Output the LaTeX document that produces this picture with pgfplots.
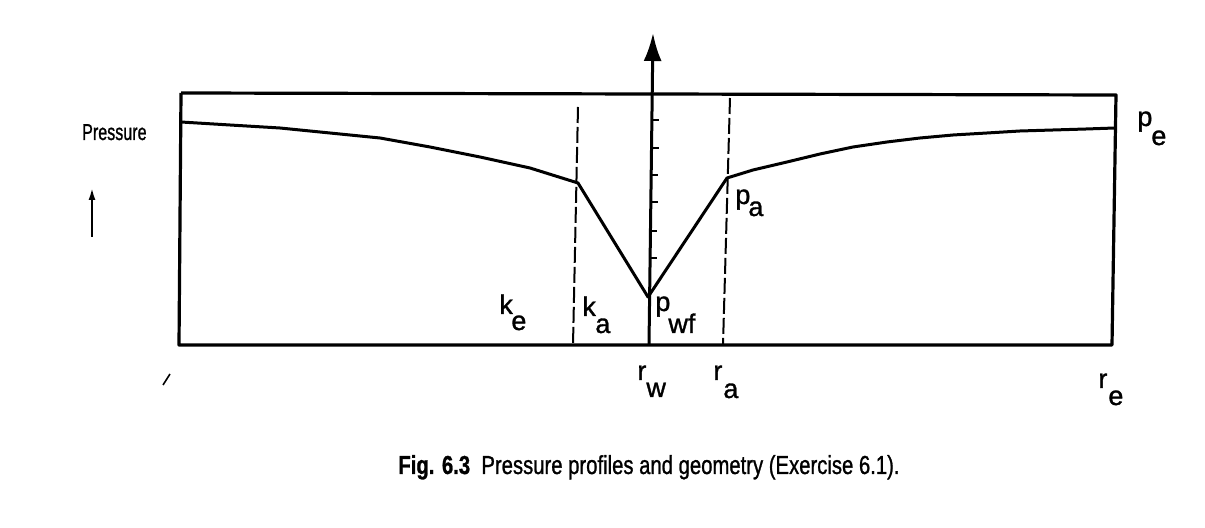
\documentclass[border=0pt]{standalone}
\usepackage{pgfplots}
\pgfplotsset{compat=1.18}
\usepackage{fontspec}
\setmainfont{Liberation Sans}
\newfontfamily\thickfont[FakeBold=1.2]{Liberation Sans}
\usetikzlibrary{arrows.meta}
\begin{document}
\begin{tikzpicture}
\begin{axis}[
  scale only axis, width=602.5pt, height=264pt,
  xmin=0, xmax=1205, ymin=0, ymax=528, y dir=reverse,
  hide axis, clip=false, unbounded coords=jump,
  every axis plot/.append style={black, line join=round},
]
% frame
\addplot[line width=1.6pt] coordinates {(181,93) (1116,95) (1112,345) (179,345) (181,93)};
% pressure profile
\addplot[line width=1.5pt] coordinates {
(181,122) (230,125) (280,128) (330,133) (380,138) (430,147) (480,157) (530,168) (578,183)
(648,297)
(727,178) (753,170) (787,162) (820,154) (853,147) (887,142) (920,138) (953,135) (987,133) (1020,131) (1053,130) (1086,129) (1115,128)};
% dashed boundaries
\addplot[line width=1pt, dash pattern=on 8pt off 2pt] coordinates {(578,107) (573,345)};
\addplot[line width=1pt, dash pattern=on 8pt off 2pt] coordinates {(730,98) (723,345)};
% well axis with arrow
\addplot[line width=1.5pt, -{Latex[length=14pt,width=9pt]}] coordinates {(649,345) (653,33)};
% ticks on well axis
\addplot[line width=1.2pt] coordinates {
(653,120) (659,120) (653,nan)
(653,148) (659,148) (653,nan)
(652,175) (658,175) (652,nan)
(652,202) (658,202) (652,nan)
(651,231) (657,231) (651,nan)
(651,258) (657,258)};
% small pressure arrow
\addplot[line width=1pt, -{Latex[length=6pt,width=3.5pt]}] coordinates {(92,237) (92,188)};
% stray mark
\addplot[line width=0.8pt] coordinates {(163,385) (170,374)};
% labels
\node[anchor=base east, inner sep=0pt, font=\thickfont\fontsize{11.5}{11.5}\selectfont] at (axis cs:147,140) {\scalebox{0.7}[1]{Pressure}};
\begin{scope}[every node/.style={anchor=base west, inner sep=0pt, font=\thickfont\fontsize{13.5}{13.5}\selectfont}]
\node at (axis cs:499,314) {k}; \node at (axis cs:511,330) {e};
\node at (axis cs:582,316) {k}; \node at (axis cs:595,333) {a};
\node at (axis cs:655,311) {p}; \node at (axis cs:668,333) {wf};
\node at (axis cs:735,204) {p}; \node at (axis cs:748,216) {a};
\node at (axis cs:1137,126) {p}; \node at (axis cs:1151,145) {e};
\node at (axis cs:637,380) {r}; \node at (axis cs:646,397) {w};
\node at (axis cs:713,380) {r}; \node at (axis cs:723,398) {a};
\node at (axis cs:1098,388) {r}; \node at (axis cs:1108,405) {e};
\end{scope}
\node[anchor=base west, inner sep=0pt, font=\thickfont\fontsize{13}{13}\selectfont] at (axis cs:398,474) {\scalebox{0.78}[1]{\textbf{Fig. 6.3}\ \ Pressure profiles and geometry (Exercise 6.1).}};
\path (axis cs:0,0) rectangle (axis cs:1205,528);
\end{axis}
\end{tikzpicture}
\end{document}
